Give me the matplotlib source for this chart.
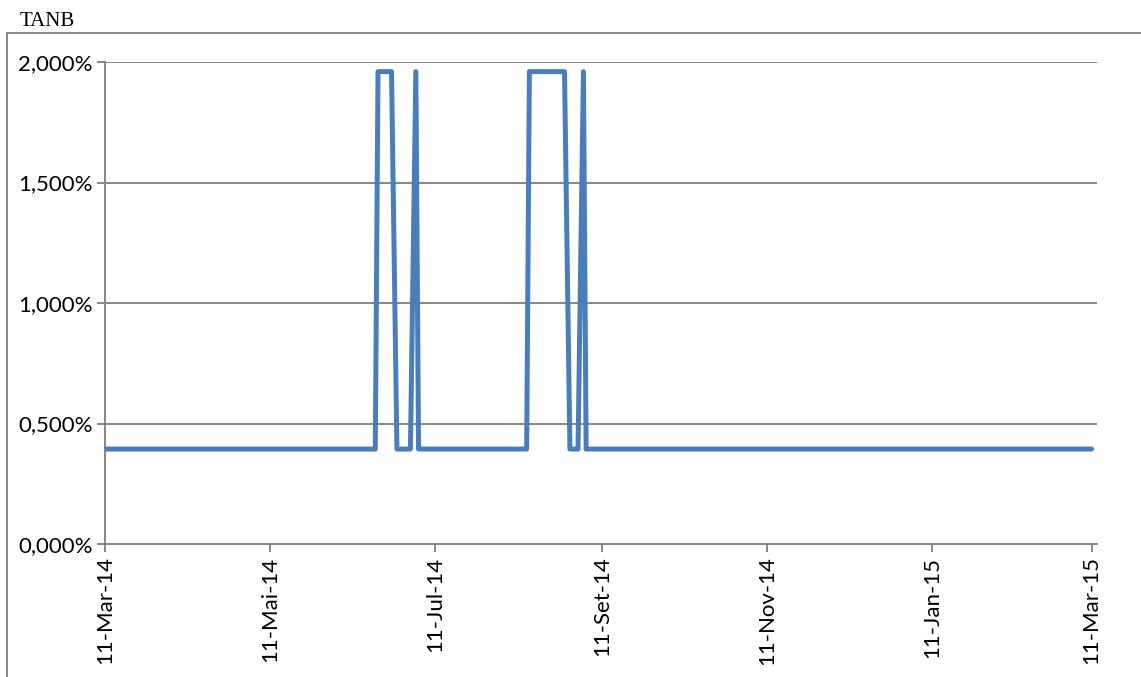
import matplotlib
matplotlib.use("Agg")
import matplotlib.pyplot as plt
from matplotlib.ticker import FuncFormatter
from matplotlib.lines import Line2D
import datetime as dt

# breakpoints of the TANB series (dates, rate in %)
dates = ["2014-03-11", "2014-06-19", "2014-06-20", "2014-06-25", "2014-06-27",
         "2014-07-02", "2014-07-04", "2014-07-05", "2014-08-14", "2014-08-15",
         "2014-08-28", "2014-08-30", "2014-09-02", "2014-09-04", "2014-09-05",
         "2015-03-11"]
tanb = [0.394, 0.394, 1.96, 1.96, 0.394,
        0.394, 1.96, 0.394, 0.394, 1.96,
        1.96, 0.394, 0.394, 1.96, 0.394,
        0.394]

tick_dates = ["2014-03-11", "2014-05-11", "2014-07-11", "2014-09-11",
              "2014-11-11", "2015-01-11", "2015-03-11"]
tick_labels = ["11-Mar-14", "11-Mai-14", "11-Jul-14", "11-Set-14",
               "11-Nov-14", "11-Jan-15", "11-Mar-15"]
y_ticks = [0, 0.5, 1.0, 1.5, 2.0]

x = [dt.datetime.strptime(d, "%Y-%m-%d") for d in dates]
xt = [dt.datetime.strptime(d, "%Y-%m-%d") for d in tick_dates]

fig = plt.figure(figsize=(11.41, 6.77), dpi=100)
ax = fig.add_axes([105 / 1141, 1 - 544 / 677, 992 / 1141, 482 / 677])

grey = "#868686"
ax.plot(x, tanb, color="#4A7EBB", linewidth=3.6, solid_joinstyle="round",
        solid_capstyle="round", zorder=3)

ax.set_ylim(0, 2.0)
ax.set_xlim(xt[0], xt[0] + dt.timedelta(days=367))
ax.set_yticks(y_ticks)
ax.yaxis.set_major_formatter(FuncFormatter(lambda v, p: f"{v:.3f}%".replace(".", ",")))
ax.set_xticks(xt)
ax.set_xticklabels(tick_labels, rotation=90)

ax.grid(axis="y", color=grey, linewidth=1.4)
ax.set_axisbelow(True)
for s in ["top", "right"]:
    ax.spines[s].set_visible(False)
for s in ["left", "bottom"]:
    ax.spines[s].set_color(grey)
    ax.spines[s].set_linewidth(1.4)
ax.tick_params(axis="both", colors=grey, length=6, width=1.4, direction="out", pad=3)
for lbl in ax.get_xticklabels() + ax.get_yticklabels():
    lbl.set_color("black")
    lbl.set_fontsize(16)
    lbl.set_fontfamily("Lato")

# chart border (left and top edges visible)
fig.add_artist(Line2D([7 / 1141, 7 / 1141], [0, 1 - 33 / 677], color=grey, linewidth=1.4))
fig.add_artist(Line2D([7 / 1141, 1], [1 - 33 / 677, 1 - 33 / 677], color=grey, linewidth=1.4))

fig.text(20 / 1141, 1 - 22 / 677, "TANB", fontsize=15, family="Liberation Serif",
         va="center", ha="left")

fig.savefig("out.png", dpi=100)
